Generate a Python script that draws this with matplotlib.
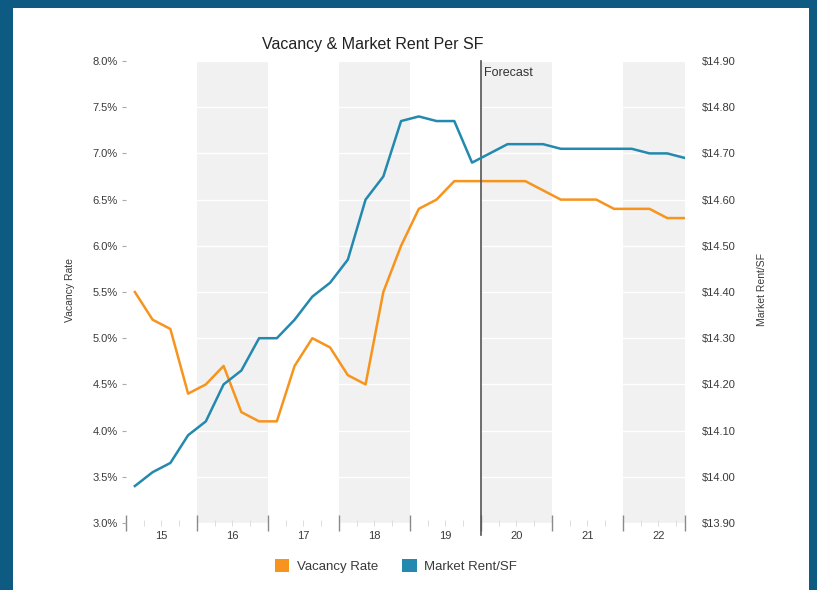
import numpy as np
import matplotlib
matplotlib.use("Agg")
import matplotlib.pyplot as plt
from matplotlib.patches import Rectangle, Patch
from matplotlib.ticker import FuncFormatter, FixedLocator

plt.rcParams["font.family"] = ["Liberation Sans", "DejaVu Sans"]

# quarterly data, 2015 Q1 .. 2022 Q4
years = [15, 16, 17, 18, 19, 20, 21, 22]
vacancy = [5.5, 5.2, 5.1, 4.4, 4.5, 4.7, 4.2, 4.1,
           4.1, 4.7, 5.0, 4.9, 4.6, 4.5, 5.5, 6.0,
           6.4, 6.5, 6.7, 6.7, 6.7, 6.7, 6.7, 6.6,
           6.5, 6.5, 6.5, 6.4, 6.4, 6.4, 6.3, 6.3]
rent = [13.98, 14.01, 14.03, 14.09, 14.12, 14.20, 14.23, 14.30,
        14.30, 14.34, 14.39, 14.42, 14.47, 14.60, 14.65, 14.77,
        14.78, 14.77, 14.77, 14.68, 14.70, 14.72, 14.72, 14.72,
        14.71, 14.71, 14.71, 14.71, 14.71, 14.70, 14.70, 14.69]
vac_ticks = [3.0, 3.5, 4.0, 4.5, 5.0, 5.5, 6.0, 6.5, 7.0, 7.5, 8.0]
rent_ticks = [13.90, 14.00, 14.10, 14.20, 14.30, 14.40, 14.50, 14.60, 14.70, 14.80, 14.90]
forecast_start = 2020
shaded_years = [16, 18, 20, 22]

ORANGE = "#f7941e"
BLUE = "#2389ae"
TXT = "#3a3a3a"

W, H = 817, 590
fig = plt.figure(figsize=(W / 100, H / 100), dpi=100, facecolor="#0d5b82")
fig.patches.append(Rectangle((13 / W, 0), (809 - 13) / W, 1 - 8 / H,
                             transform=fig.transFigure, facecolor="white",
                             edgecolor="none", zorder=-10))

L, R, T, B = 126, 685, 61, 523
ax = fig.add_axes([L / W, 1 - B / H, (R - L) / W, (B - T) / H])
ax.set_facecolor("none")
ax2 = ax.twinx()
ax2.set_facecolor("none")

x = 2015 + (np.arange(len(vacancy)) + 0.5) / 4
x_end = 2015 + len(vacancy) / 4 - 0.125

for yr in shaded_years:
    a = 2000 + yr
    ax.axvspan(a, min(a + 1, x_end), color="#f1f1f1", lw=0, zorder=0)
for v in vac_ticks:
    ax.axhline(v, color="white", lw=1.0, zorder=1)

ax.plot(x, vacancy, color=ORANGE, lw=1.8, zorder=3)
ax2.plot(x, rent, color=BLUE, lw=1.8, zorder=3)

ax.axvline(forecast_start, ymin=-0.025, ymax=1, color="#555555", lw=1.2,
           clip_on=False, zorder=4)
ax.text(forecast_start + 0.04, 7.93, "Forecast", fontsize=9, color="#333333",
        ha="left", va="top")

ax.set_xlim(2015, x_end)
ax.set_ylim(3.0, 8.0)
ax2.set_ylim(13.90, 14.90)

for a in (ax, ax2):
    for s in a.spines.values():
        s.set_visible(False)

ax.set_yticks(vac_ticks)
ax.yaxis.set_major_formatter(FuncFormatter(lambda v, p: f"{v:.1f}%"))
ax.tick_params(axis="y", length=3, width=0.8, color="#aaaaaa", pad=3,
               labelsize=8, labelcolor=TXT)
ax2.set_yticks(rent_ticks)
ax2.yaxis.set_major_formatter(FuncFormatter(lambda v, p: f"${v:.2f}"))
ax2.tick_params(axis="y", length=0, pad=12, labelsize=8, labelcolor=TXT)

major = [2000 + y for y in years] + [x_end]
ax.xaxis.set_major_locator(FixedLocator(major))
ax.xaxis.set_minor_locator(FixedLocator(
    [v for v in np.arange(2015, x_end, 0.25) if v not in major]))
ax.set_xticklabels([])
ax.tick_params(axis="x", which="major", direction="inout", length=12,
               width=1.0, color="#8a8a8a")
ax.tick_params(axis="x", which="minor", direction="inout", length=5,
               width=0.7, color="#dddddd")
for yr in years:
    ax.text(2000 + yr + 0.5, 2.91, str(yr), fontsize=8, color=TXT,
            ha="center", va="top", clip_on=False)

fig.text(70 / W, 1 - 290 / H, "Vacancy Rate", rotation=90, fontsize=7.5,
         color=TXT, ha="center", va="center")
fig.text(762 / W, 1 - 290 / H, "Market Rent/SF", rotation=90, fontsize=7.5,
         color=TXT, ha="center", va="center")
fig.text(373 / W, 1 - 44 / H, "Vacancy & Market Rent Per SF", fontsize=11.5,
         color="#222222", ha="center", va="center")

handles = [Patch(facecolor=ORANGE, edgecolor="none"),
           Patch(facecolor=BLUE, edgecolor="none")]
fig.legend(handles, ["Vacancy Rate", "Market Rent/SF"], loc="center",
           bbox_to_anchor=(396 / W, 1 - 566 / H), ncol=2, frameon=False,
           fontsize=9.5, handlelength=1.1, handleheight=1.1,
           handletextpad=0.6, columnspacing=1.8, labelcolor=TXT)

fig.savefig("out.png", dpi=100, facecolor=fig.get_facecolor())
